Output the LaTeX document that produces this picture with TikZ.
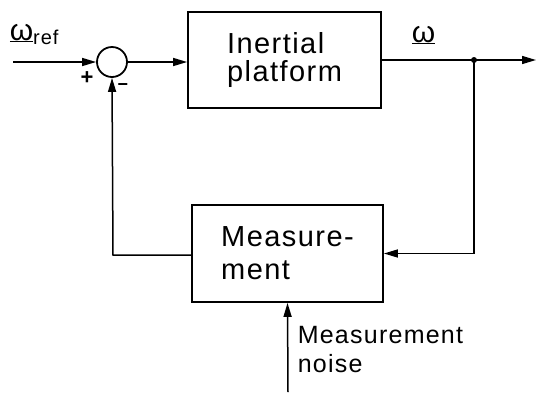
\documentclass[tikz,border=0pt]{standalone}
\usepackage{fontspec}
\setmainfont{Liberation Sans}[LetterSpace=5]
\usetikzlibrary{arrows.meta}
\begin{document}
\begin{tikzpicture}[x=1pt,y=-1pt,
  line width=1.5pt,
  blk/.style={draw,line width=1.8pt,inner sep=0pt,align=left,font=\fontsize{29}{29}\selectfont},
  sumj/.style={draw,circle,line width=1.8pt,minimum size=30pt,inner sep=0pt},
  arr/.style={-{Triangle[length=14pt,width=8pt]}},
  lbl/.style={inner sep=0pt},
]
\useasboundingbox (0,0) rectangle (536,392);
\node[sumj] (sum) at (112,62) {};
\node[blk,minimum width=193pt,minimum height=96pt] (plat) at (284.5,60) {Inertial\\[-1pt]platform};
\node[blk,minimum width=191pt,minimum height=97pt] (meas) at (287.5,253.5) {Measure-\\[4pt]ment};
\coordinate (in) at (13,62);
\coordinate (out) at (536,60);
\coordinate (noise) at (288,392);
\fill (474,60) circle (3pt) coordinate (jn);
\coordinate (c1) at (474,253.5);
\coordinate (c2) at (113,255);

\draw[arr] (in) -- (sum.west);
\draw[arr] (sum.east) -- (sum.east -| plat.west);
\draw[arr] (plat.east) -- (out);
\draw[arr] (jn) -- (c1) -- (meas.east);
\draw[arr] (meas.west |- c2) -- (c2) -- (sum.south);
\draw[arr] (noise) -- (meas.south);

\node[lbl,anchor=base west,font=\fontsize{30}{30}\selectfont] (wref) at (9,40) {\underline{ω}\raisebox{-4pt}{\fontsize{20}{20}\selectfont ref}};
\node[lbl,anchor=base west,font=\fontsize{30}{30}\selectfont] (w) at (411,42) {\underline{ω}};
\node[lbl,font=\fontsize{22}{22}\selectfont\bfseries] (plus) at (87,78) {+};
\node[lbl,font=\fontsize{18}{18}\selectfont\bfseries] (minus) at (123,87) {−};
\node[lbl,anchor=north west,align=left,font=\fontsize{25}{29}\selectfont] (nl) at (297,326) {Measurement\\noise};
\end{tikzpicture}
\end{document}
